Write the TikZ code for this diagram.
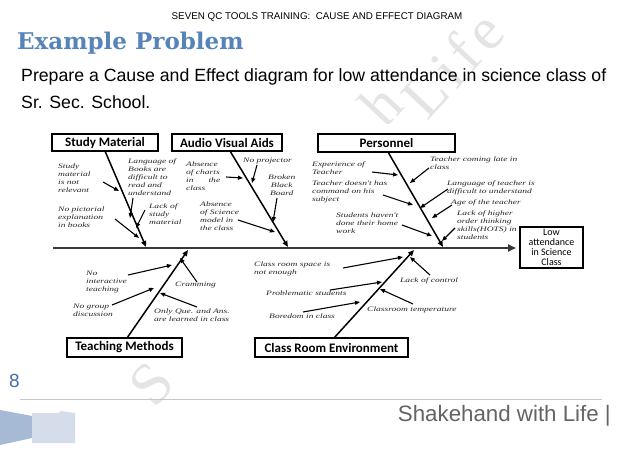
\documentclass[tikz,border=0pt]{standalone}
\usepackage{fontspec}
\setmainfont{Liberation Serif}
\newfontfamily\arialfont{Liberation Sans}
\newfontfamily\calfont{Carlito}
\newfontfamily\titlefont{DejaVu Serif}
\newfontfamily\handfont[FakeStretch=1.4]{Liberation Serif}
\usetikzlibrary{arrows.meta}
\definecolor{titleblue}{RGB}{86,132,186}
\definecolor{pageblue}{RGB}{70,110,168}
\definecolor{footgray}{RGB}{100,100,100}
\definecolor{wmgray}{RGB}{228,228,228}
\definecolor{darkbar}{RGB}{166,186,214}
\definecolor{lightbar}{RGB}{212,221,233}
\definecolor{spinegray}{RGB}{55,55,55}
\tikzset{
  catbox/.style={draw=black, line width=1.4pt, fill=white, inner sep=0pt, font=\calfont\bfseries\fontsize{13}{14}\selectfont},
  cause/.style={inner sep=0pt, align=left, font=\handfont\itshape\fontsize{6.8}{7.9}\selectfont, text=black!85},
  wmletter/.style={rotate=47, text=wmgray, font=\fontsize{60}{60}\selectfont, inner sep=0pt},
  bone/.style={line width=1.5pt, -{Triangle[length=6pt,width=5pt]}},
  sub/.style={line width=1.1pt, -{Triangle[length=5pt,width=4pt]}},
  spine/.style={line width=2.6pt, draw=spinegray, -{Triangle[length=8pt,width=7pt]}}
}
\begin{document}
\begin{tikzpicture}[x=1pt,y=-1pt]
\useasboundingbox (0,0) rectangle (638,452);
\fill[white] (0,0) rectangle (638,452);
% watermark (only the letters left visible around the diagram)
\node[wmletter] (wS) at (152,384) {S};
\node[wmletter] (wh) at (381,104) {h};
\node[wmletter] (wlife) at (452,64) {L\hspace{6pt}i\hspace{6pt}f\hspace{6pt}e};
% diagram area (white background over watermark)
\fill[white] (42,124) rectangle (602,364);
% header texts
\node[font=\arialfont\fontsize{9.8}{11}\selectfont, inner sep=0pt] (hdr) at (317,17) {SEVEN QC TOOLS TRAINING:\ \ CAUSE AND EFFECT DIAGRAM};
\node[anchor=west, font=\titlefont\bfseries\fontsize{23}{24}\selectfont, text=titleblue, inner sep=0pt] (ttl) at (17,43) {Example Problem};
\node[anchor=west, font=\arialfont\fontsize{17.7}{20}\selectfont, inner sep=0pt] (l1) at (21,77) {Prepare a Cause and Effect diagram for low attendance in science class of};
\node[anchor=west, font=\arialfont\fontsize{17.7}{20}\selectfont, inner sep=0pt] (l2) at (21,102) {Sr. Sec. School.};
% category boxes
\node[catbox, minimum width=106pt, minimum height=17pt] (sm) at (105,142.5) {Study Material};
\node[catbox, minimum width=110pt, minimum height=17pt] (av) at (227,142.5) {Audio Visual Aids};
\node[catbox, minimum width=137pt, minimum height=18pt] (pe) at (386.5,143) {Personnel};
\node[catbox, minimum width=115pt, minimum height=19pt] (tm) at (124.5,347.5) {Teaching Methods};
\node[catbox, minimum width=153pt, minimum height=19pt] (cr) at (331.5,347.5) {Class Room Environment};
\node[draw=black, line width=1.4pt, fill=white, minimum width=63pt, minimum height=41pt, inner sep=0pt, align=center, font=\calfont\fontsize{10}{10}\selectfont] (la) at (551.5,247.5) {Low\\attendance\\in Science\\Class};
% spine
\coordinate (sp0) at (53,248);
\coordinate (sp1) at (516,248);
\draw[spine] (sp0) -- (sp1);
% bones
\coordinate (smt) at (105,151);
\coordinate (sme) at (146,247);
\coordinate (avt) at (230,151);
\coordinate (ave) at (288,247);
\coordinate (pet) at (388,152);
\coordinate (pee) at (443,247);
\coordinate (tmt) at (127,338);
\coordinate (tme) at (188,250);
\coordinate (crt) at (334,338);
\coordinate (cre) at (414,250);
\draw[bone] (smt) -- (sme);
\draw[bone] (avt) -- (ave);
\draw[bone] (pet) -- (pee);
\draw[bone] (tmt) -- (tme);
\draw[bone] (crt) -- (cre);
% Study material causes
\node[cause, anchor=north west] (s1) at (58,164) {Study\\material\\is not\\relevant};
\node[cause, anchor=north west] (s2) at (128,159) {Language of\\Books are\\difficult to\\read and\\understand};
\node[cause, anchor=north west] (s3) at (58,207) {No pictorial\\explanation\\in books};
\node[cause, anchor=north west] (s4) at (149,204) {Lack of\\study\\material};
\coordinate (s1a) at (103,182); \coordinate (s1b) at (119,191);
\coordinate (s2a) at (133,198); \coordinate (s2b) at (130,218);
\coordinate (s3a) at (115,219); \coordinate (s3b) at (139,238);
\coordinate (s4a) at (145,210); \coordinate (s4b) at (136,228);
\draw[sub] (s1a) -- (s1b);
\draw[sub] (s2a) -- (s2b);
\draw[sub] (s3a) -- (s3b);
\draw[sub] (s4a) -- (s4b);
% Audio visual causes
\node[cause, anchor=north west] (a1) at (186,162) {Absence\\of charts\\in\hspace{15pt}the\\class};
\node[cause, anchor=west] (a2) at (243,161) {No projector};
\node[cause, anchor=north west, align=center] (a3) at (268,175) {Broken\\Black\\Board};
\node[cause, anchor=north west] (a4) at (200,202) {Absence\\of Science\\model in\\the class};
\coordinate (a1a) at (226,177); \coordinate (a1b) at (243,178);
\coordinate (a2a) at (257,165); \coordinate (a2b) at (252,183);
\coordinate (a3a) at (277,198); \coordinate (a3b) at (273,222);
\coordinate (a4a) at (238,220); \coordinate (a4b) at (275,232);
\draw[sub] (a1a) -- (a1b);
\draw[sub] (a2a) -- (a2b);
\draw[sub] (a3a) -- (a3b);
\draw[sub] (a4a) -- (a4b);
% Personnel causes
\node[cause, anchor=north west] (p1) at (312,162) {Experience of\\Teacher};
\node[cause, anchor=north west] (p2) at (312,181) {Teacher doesn't has\\command on his\\subject};
\node[cause, anchor=north west] (p3) at (336,213) {Students haven't\\done their home\\work};
\node[cause, anchor=north west] (p4) at (430,157) {Teacher coming late in\\class};
\node[cause, anchor=north west] (p5) at (447,181) {Language of teacher is\\difficult to understand};
\node[cause, anchor=west] (p6) at (451,203) {Age of the teacher};
\node[cause, anchor=north west] (p7) at (457,211) {Lack of higher\\order thinking\\skills(HOTS) in\\students};
\coordinate (p1a) at (372,172); \coordinate (p1b) at (398,175);
\coordinate (p2a) at (383,195); \coordinate (p2b) at (413,205);
\coordinate (p3a) at (402,225); \coordinate (p3b) at (432,236);
\coordinate (p4a) at (429,168); \coordinate (p4b) at (410,183);
\coordinate (p5a) at (448,189); \coordinate (p5b) at (420,208);
\coordinate (p6a) at (452,205); \coordinate (p6b) at (432,218);
\coordinate (p7a) at (455,228); \coordinate (p7b) at (442,241);
\draw[sub] (p1a) -- (p1b);
\draw[sub] (p2a) -- (p2b);
\draw[sub] (p3a) -- (p3b);
\draw[sub] (p4a) -- (p4b);
\draw[sub] (p5a) -- (p5b);
\draw[sub] (p6a) -- (p6b);
\draw[sub] (p7a) -- (p7b);
% Teaching methods causes
\node[cause, anchor=north west] (t1) at (86,271) {No\\interactive\\teaching};
\node[cause, anchor=north west] (t2) at (73,304) {No group\\discussion};
\node[cause, anchor=west] (t3) at (175,285) {Cramming};
\node[cause, anchor=north west] (t4) at (154,309) {Only Que. and Ans.\\are learned in class};
\coordinate (t1a) at (128,275); \coordinate (t1b) at (172,265);
\coordinate (t2a) at (112,305); \coordinate (t2b) at (154,288);
\coordinate (t3a) at (197,282); \coordinate (t3b) at (180,258);
\coordinate (t4a) at (197,307); \coordinate (t4b) at (160,293);
\draw[sub] (t1a) -- (t1b);
\draw[sub] (t2a) -- (t2b);
\draw[sub] (t3a) -- (t3b);
\draw[sub] (t4a) -- (t4b);
% Class room causes
\node[cause, anchor=north west] (c1) at (254,262) {Class room space is\\not enough};
\node[cause, anchor=west] (c2) at (400,281) {Lack of control};
\node[cause, anchor=west] (c3) at (266,293) {Problematic students};
\node[cause, anchor=west] (c4) at (367,310) {Classroom temperature};
\node[cause, anchor=west] (c5) at (269,316) {Boredom in class};
\coordinate (c1a) at (343,268); \coordinate (c1b) at (403,257);
\coordinate (c2a) at (430,275); \coordinate (c2b) at (410,257);
\coordinate (c3a) at (330,290); \coordinate (c3b) at (382,282);
\coordinate (c4a) at (413,304); \coordinate (c4b) at (380,289);
\coordinate (c5a) at (303,312); \coordinate (c5b) at (360,302);
\draw[sub] (c1a) -- (c1b);
\draw[sub] (c2a) -- (c2b);
\draw[sub] (c3a) -- (c3b);
\draw[sub] (c4a) -- (c4b);
\draw[sub] (c5a) -- (c5b);
% footer
\node[anchor=west, font=\arialfont\fontsize{19}{20}\selectfont, text=pageblue, inner sep=0pt] (pg) at (9,381) {8};
\coordinate (fl0) at (20,399); \coordinate (fl1) at (602,399);
\draw[line width=0.5pt, draw=black!22] (fl0) -- (fl1);
\node[anchor=east, font=\arialfont\fontsize{22.3}{24}\selectfont, text=footgray, inner sep=0pt] (ft) at (611,416) {Shakehand with Life |};
\fill[darkbar] (0,410) -- (32,416) -- (32,438) -- (0,445) -- cycle;
\fill[lightbar] (32,413) -- (58,413) -- (61,411) -- (75,413) -- (75,443) -- (32,443) -- cycle;
\end{tikzpicture}
\end{document}
